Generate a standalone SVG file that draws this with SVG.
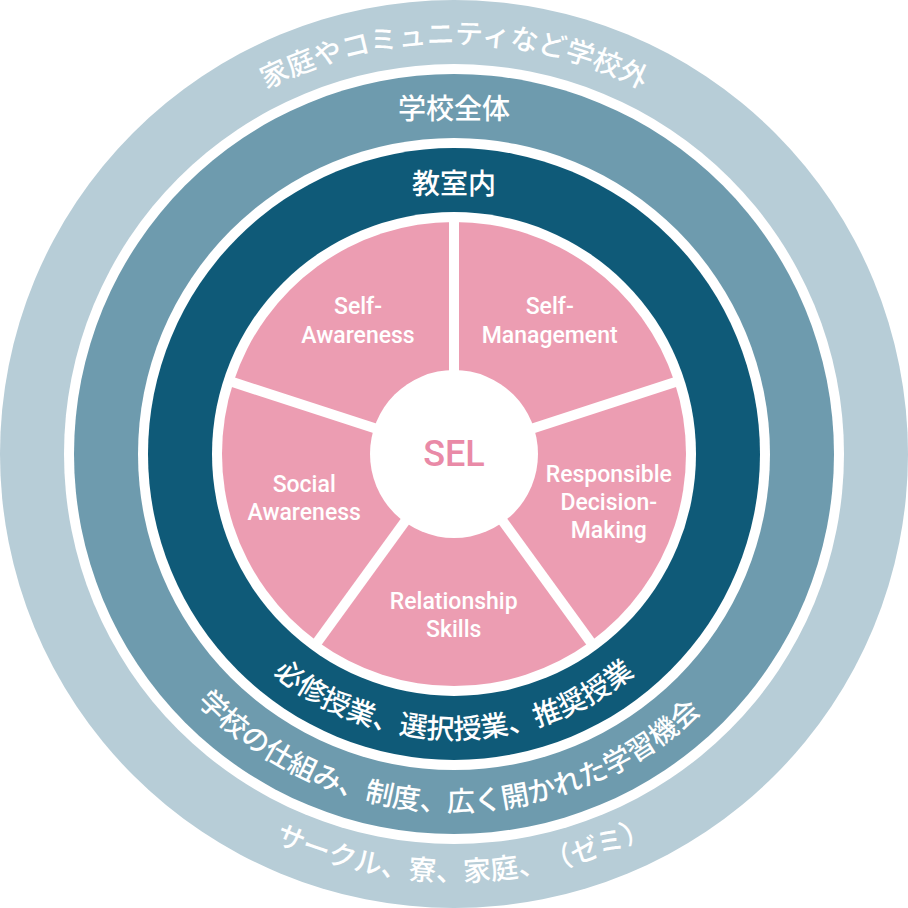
<svg xmlns="http://www.w3.org/2000/svg" width="908" height="908" viewBox="0 0 908 908">
  <style>
    .jp { font-family: "Noto Sans CJK JP", "Noto Sans", sans-serif; font-size: 28px; font-weight: 500; fill: #ffffff; text-spacing-trim: space-all; font-feature-settings: "halt" 0, "palt" 0; }
    .lbl { font-family: Roboto, "Liberation Sans", sans-serif; font-size: 23px; font-weight: 500; fill: #ffffff; text-anchor: middle; }
    .wedge { fill: #ec9db2; }
    .sep { stroke: #ffffff; stroke-width: 10; fill: none; }
  </style>
  <defs>
    <path id="arcTop" d="M43.6,454 A410.4,410.4 0 0 1 864.4,454"/>
    <path id="arcB1" d="M168.9,454 A285.1,285.1 0 0 0 739.1,454"/>
    <path id="arcB2" d="M96.4,454 A357.6,357.6 0 0 0 811.6,454"/>
    <path id="arcB3" d="M26.4,454 A427.6,427.6 0 0 0 881.6,454"/>
  </defs>

  <g id="ring-outside">
    <circle cx="454" cy="454" r="454" fill="#b7cdd7"/>
    <circle cx="454" cy="454" r="390" fill="#ffffff"/>
    <text class="jp" lang="ja"><textPath href="#arcTop" startOffset="50%" text-anchor="middle">家庭やコミュニティなど学校外</textPath></text>
    <text class="jp" lang="ja"><textPath href="#arcB3" startOffset="681.4" text-anchor="middle">サークル、寮、家庭、（ゼミ）</textPath></text>
  </g>

  <g id="ring-school">
    <circle cx="454" cy="454" r="380" fill="#6e9bae"/>
    <circle cx="454" cy="454" r="316" fill="#ffffff"/>
    <text class="jp" lang="ja" x="454" y="119.3" text-anchor="middle">学校全体</text>
    <text class="jp" lang="ja"><textPath href="#arcB2" startOffset="554.5" text-anchor="middle">学校の仕組み、制度、広く開かれた学習機会</textPath></text>
  </g>

  <g id="ring-classroom">
    <circle cx="454" cy="454" r="306" fill="#0f5a78"/>
    <circle cx="454" cy="454" r="242" fill="#ffffff"/>
    <text class="jp" lang="ja" x="454" y="194" text-anchor="middle">教室内</text>
    <text class="jp" lang="ja"><textPath href="#arcB1" startOffset="50%" text-anchor="middle">必修授業、選択授業、推奨授業</textPath></text>
  </g>

  <g id="self-management">
    <path class="wedge" d="M454,454 L454,222 A232,232 0 0 1 674.65,382.31 Z"/>
    <text class="lbl" x="549.7" y="314">Self-</text>
    <text class="lbl" x="549.7" y="342.7">Management</text>
  </g>
  <g id="responsible-decision-making">
    <path class="wedge" d="M454,454 L674.65,382.31 A232,232 0 0 1 590.37,641.69 Z"/>
    <text class="lbl" x="608.8" y="481.7">Responsible</text>
    <text class="lbl" x="608.8" y="510">Decision-</text>
    <text class="lbl" x="608.8" y="538.3">Making</text>
  </g>
  <g id="relationship-skills">
    <path class="wedge" d="M454,454 L590.37,641.69 A232,232 0 0 1 317.63,641.69 Z"/>
    <text class="lbl" x="453.7" y="609.3">Relationship</text>
    <text class="lbl" x="453.7" y="637.3">Skills</text>
  </g>
  <g id="social-awareness">
    <path class="wedge" d="M454,454 L317.63,641.69 A232,232 0 0 1 233.35,382.31 Z"/>
    <text class="lbl" x="304.2" y="491.7">Social</text>
    <text class="lbl" x="304.2" y="520">Awareness</text>
  </g>
  <g id="self-awareness">
    <path class="wedge" d="M454,454 L233.35,382.31 A232,232 0 0 1 454,222 Z"/>
    <text class="lbl" x="358" y="314">Self-</text>
    <text class="lbl" x="358" y="342.7">Awareness</text>
  </g>

  <g id="connectors">
    <line class="sep" x1="454" y1="454" x2="454" y2="214"/>
    <line class="sep" x1="454" y1="454" x2="682.3" y2="379.8"/>
    <line class="sep" x1="454" y1="454" x2="595.1" y2="648.2"/>
    <line class="sep" x1="454" y1="454" x2="312.9" y2="648.2"/>
    <line class="sep" x1="454" y1="454" x2="225.7" y2="379.8"/>
  </g>

  <g id="sel">
    <circle cx="454" cy="454" r="84" fill="#ffffff"/>
    <text x="454" y="466" text-anchor="middle" font-family="Roboto, 'Liberation Sans', sans-serif" font-size="36" font-weight="500" fill="#e98aa7">SEL</text>
  </g>
</svg>
